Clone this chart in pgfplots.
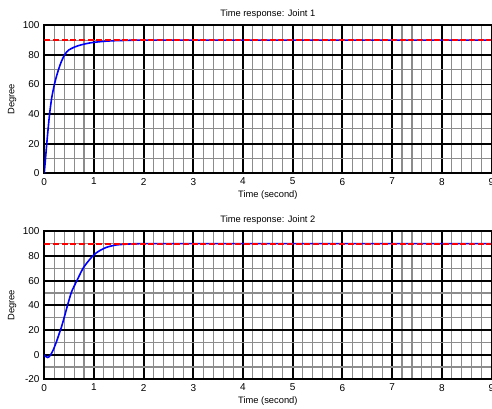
\documentclass[border=0pt]{standalone}
\usepackage{fontspec}
\setmainfont{Liberation Sans}
\usepackage{pgfplots}
\pgfplotsset{compat=1.18}

\pgfplotsset{
  jointaxis/.style={
    scale only axis,
    width=335.4pt, height=111pt,
    xmin=0, xmax=9,
    xtick={0,1,...,9},
    minor x tick num=4,
    minor y tick num=1,
    grid=both,
    major grid style={black, line width=1.4pt},
    minor grid style={black!45, line width=0.8pt},
    axis line style={black, line width=1.4pt},
    tick align=inside,
    tick style={black},
    major tick length=2pt, minor tick length=0pt,
    /pgf/number format/assume math mode=true,
    ticklabel style={font=\fontsize{7.5}{8}\selectfont},
    label style={font=\fontsize{7}{8}\selectfont},
    title style={font=\fontsize{7}{8}\selectfont, yshift=-4pt},
    xlabel={Time (second)},
    ylabel={Degree},
    xlabel style={yshift=3pt},
    ylabel style={yshift=-2pt},
    anchor=south west,
  },
  resp/.style={blue, line width=1.2pt, smooth, tension=0.4},
  ref/.style={red, line width=1.4pt, dash pattern=on 4.5pt off 2pt},
}

\begin{document}
\begin{tikzpicture}
\useasboundingbox (0,0) rectangle (369pt,306pt);

\begin{axis}[jointaxis,
  at={(33.2pt,176pt)},
  ymin=0, ymax=100, ytick={0,20,...,100},
  title={Time response: Joint 1},
]
\addplot[resp] coordinates {
  (0,0)(0.02,8)(0.05,20)(0.08,31)(0.11,41)(0.15,51)(0.2,59.5)(0.25,66)
  (0.3,71.5)(0.35,76)(0.4,79.5)(0.45,82)(0.5,83.5)(0.6,85.2)(0.7,86.4)
  (0.8,87.3)(0.9,88)(1.0,88.5)(1.2,89.2)(1.4,89.6)(1.6,89.8)(1.8,89.95)
  (2,90)(4,90)(6,90)(9,90)};
\addplot[ref] coordinates {(0,90)(9,90)};
\end{axis}

\begin{axis}[jointaxis,
  at={(33.2pt,21.5pt)},
  ymin=-20, ymax=100, ytick={-20,0,20,...,100},
  yticklabels={-20,0,20,40,60,80,100},
  title={Time response: Joint 2},
]
\addplot[resp] coordinates {
  (0,0)(0.03,-1.5)(0.07,-2.3)(0.1,-1.6)(0.13,0)(0.18,3.8)(0.25,11)
  (0.3,17)(0.35,23)(0.4,30)(0.48,41.7)(0.55,51)(0.65,59.5)(0.78,70)
  (0.9,76.5)(1.0,81)(1.1,84)(1.25,87)(1.4,88.6)(1.5,89.2)(1.7,89.7)
  (2,90)(4,90)(6,90)(9,90)};
\addplot[ref] coordinates {(0,90)(9,90)};
\end{axis}
\end{tikzpicture}
\end{document}
